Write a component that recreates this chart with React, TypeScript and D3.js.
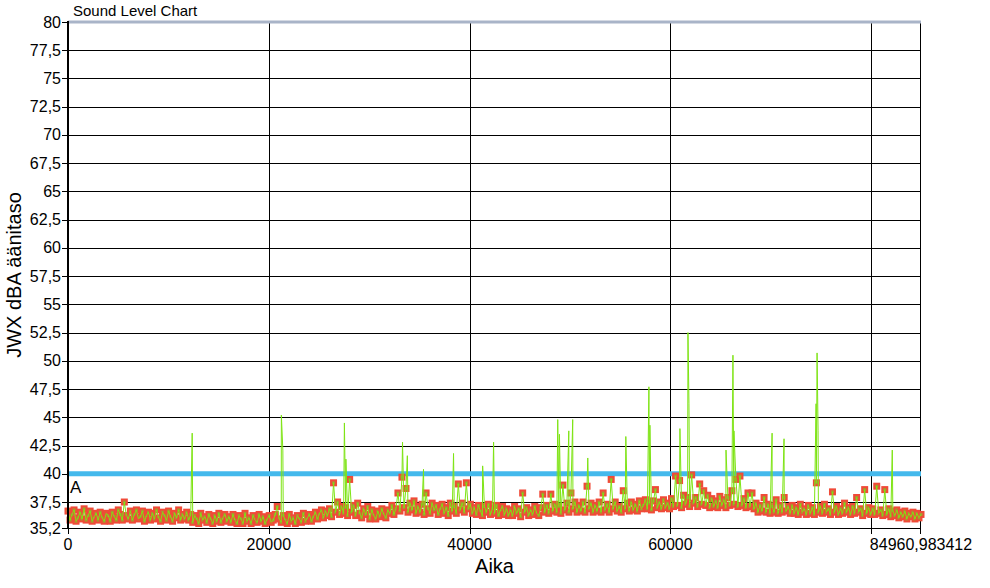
import React from 'react';
import * as d3 from 'd3';

const T_END = 84960.983412;

const levels: number[] = [
  36.7, 35.9, 36.4, 36.8, 35.8, 36.1, 36.6, 36.0, 36.9, 35.9, 36.3, 36.7, 35.8, 36.2, 36.5, 35.9, 36.6, 36.1, 35.8, 36.5,
  36.3, 35.8, 36.6, 36.2, 35.9, 36.8, 36.4, 35.9, 37.5, 36.3, 36.0, 36.7, 35.9, 36.4, 36.8, 36.0, 36.2, 36.7, 35.8, 36.3,
  36.6, 35.9, 36.5, 36.0, 36.8, 36.1, 35.8, 36.6, 36.3, 35.9, 36.7, 36.2, 35.8, 36.5, 36.1, 36.8, 35.9, 36.4, 36.0, 36.6,
  35.9, 36.4, 35.7, 36.3, 36.0, 35.6, 36.5, 35.9, 36.2, 35.7, 36.4, 36.0, 35.6, 36.3, 35.8, 36.5, 35.7, 36.1, 36.4, 35.8,
  36.2, 35.7, 36.4, 35.9, 35.6, 36.3, 36.0, 35.6, 36.5, 35.8, 36.1, 35.6, 36.3, 35.9, 35.7, 36.4, 35.8, 36.2, 35.6, 36.0,
  36.3, 35.7, 35.9, 36.4, 37.1, 36.0, 35.7, 36.3, 35.9, 35.6, 36.4, 35.8, 36.1, 35.6, 36.3, 36.0, 35.7, 36.5, 35.8, 36.1,
  36.4, 35.8, 36.2, 36.6, 36.0, 36.5, 36.8, 36.1, 36.7, 36.3, 36.9, 36.2, 39.2, 36.6, 37.5, 36.4, 37.1, 36.5, 37.0, 36.3,
  39.5, 36.6, 37.2, 36.3, 37.4, 36.5, 36.1, 36.9, 36.4, 37.1, 36.0, 36.8, 36.3, 36.0, 36.7, 36.2, 36.9, 36.4, 36.1, 36.8,
  36.5, 37.2, 36.4, 36.9, 38.3, 36.7, 39.7, 37.0, 38.7, 36.6, 37.4, 36.8, 37.6, 36.5, 37.1, 36.6, 37.3, 36.4, 38.3, 36.9,
  36.5, 37.4, 36.8, 37.2, 36.4, 36.9, 37.3, 36.5, 37.0, 36.3, 37.4, 36.7, 37.1, 36.5, 39.1, 36.8, 37.4, 36.6, 39.2, 36.9,
  37.3, 36.5, 37.0, 36.4, 37.2, 36.7, 36.3, 37.1, 36.6, 37.3, 36.4, 36.9, 36.5, 37.2, 36.3, 36.8, 37.1, 36.4, 36.9, 36.3,
  36.8, 36.3, 37.1, 36.5, 36.9, 36.2, 38.3, 36.6, 37.0, 36.3, 36.8, 36.4, 37.1, 36.5, 36.3, 37.0, 38.2, 36.6, 37.2, 36.5,
  38.2, 36.7, 37.3, 36.6, 37.1, 36.5, 39.0, 36.8, 37.4, 36.6, 38.3, 36.9, 37.5, 36.6, 37.2, 36.7, 37.5, 36.6, 38.9, 36.9,
  37.4, 36.6, 37.2, 36.7, 37.5, 36.6, 38.3, 36.8, 37.3, 36.6, 39.5, 36.9, 37.5, 36.7, 37.1, 36.6, 38.5, 36.9, 37.4, 36.7,
  37.5, 36.8, 37.3, 36.7, 37.6, 36.9, 37.2, 37.7, 36.9, 37.4, 36.8, 37.6, 38.6, 37.0, 37.5, 36.9, 37.7, 37.0, 37.4, 36.9,
  37.8, 37.1, 39.8, 37.2, 39.4, 37.0, 38.1, 37.3, 37.9, 37.1, 39.9, 37.4, 37.9, 37.1, 39.1, 37.3, 38.5, 37.2, 38.1, 37.0,
  37.8, 37.1, 37.6, 37.0, 38.0, 37.2, 37.7, 37.0, 37.9, 37.2, 38.5, 37.3, 39.5, 37.1, 39.8, 37.2, 37.8, 37.0, 38.3, 37.1,
  38.3, 36.9, 37.4, 36.6, 37.2, 36.7, 37.9, 36.6, 37.3, 36.5, 37.1, 36.6, 37.7, 36.5, 37.2, 36.6, 37.9, 36.7, 37.1, 36.5,
  37.2, 36.5, 37.0, 36.4, 37.3, 36.6, 36.9, 36.4, 37.2, 36.5, 37.0, 36.4, 39.2, 36.6, 37.1, 36.5, 37.3, 36.6, 36.9, 36.4,
  38.4, 36.6, 37.1, 36.4, 36.9, 36.5, 37.4, 36.6, 37.0, 36.4, 37.1, 36.5, 37.9, 36.6, 36.9, 36.3, 38.6, 36.5, 37.0, 36.4,
  36.9, 36.4, 38.9, 36.5, 36.8, 36.3, 38.6, 36.4, 36.9, 36.2, 36.7, 36.3, 36.8, 36.1, 36.6, 36.2, 36.7, 36.0, 36.5, 36.2,
  36.6, 36.0, 36.5, 36.1, 36.4,
];

// Short peaks in the green trace: time (s) and level (dBA)
const spikeTimes: number[] = [
  12370, 21250, 21400, 27530, 27680, 33320, 33800, 35410, 38400, 41300,
  42390, 48780, 48950, 49880, 50270, 51770, 55560, 57860, 57960, 60950,
  61750, 61850, 65540, 66230, 66330, 70130, 71320, 74510, 74610, 74710, 82100,
];
const spikeValues: number[] = [
  43.6, 45.2, 42.1, 44.5, 41.3, 42.8, 41.6, 40.4, 41.8, 40.7,
  42.8, 44.8, 43.5, 43.8, 44.8, 41.4, 43.3, 47.7, 44.3, 44.0,
  52.5, 46.2, 42.1, 50.5, 43.8, 43.6, 43.1, 46.2, 50.7, 43.8, 42.1,
];

const yTicks: number[] = [35.2, 37.5, 40, 42.5, 45, 47.5, 50, 52.5, 55, 57.5, 60, 62.5, 65, 67.5, 70, 72.5, 75, 77.5, 80];
const xTicks: number[] = [0, 20000, 40000, 60000, 80000, T_END];
const xTickLabels: string[] = ['0', '20000', '40000', '60000', '', '84960,983412'];
const xGrid: number[] = [20000, 40000, 60000, 80000];
const limitValue = 40;

const FONT = 'Liberation Sans, Arial, sans-serif';

export default function App() {
  const left = 68, right = 921, top = 22, bottom = 528;
  const x = d3.scaleLinear().domain([0, T_END]).range([left, right]);
  const y = d3.scaleLinear().domain([35.2, 80]).range([bottom, top]);

  const step = T_END / (levels.length - 1);
  const basePts: [number, number][] = levels.map((v, i) => [i * step, v]);
  const spikePts: [number, number][] = spikeTimes.map((t, i) => [t, spikeValues[i]]);
  const allPts = [...basePts, ...spikePts].sort((a, b) => a[0] - b[0]);

  const line = d3.line<[number, number]>()
    .x(d => x(d[0]))
    .y(d => y(d[1]));

  const fmt = (v: number) => String(v).replace('.', ',');
  const ms = 5;

  return (
    <svg width={990} height={588} style={{ position: 'absolute', left: 0, top: 0, background: '#fff' }}>
      <rect x={0} y={0} width={990} height={588} fill="#fff" />
      <text x={73} y={16} fontFamily={FONT} fontSize={15} fill="#000">Sound Level Chart</text>

      {yTicks.map(t => (
        <line key={'hg' + t} x1={left} x2={right} y1={Math.round(y(t)) + 0.5} y2={Math.round(y(t)) + 0.5} stroke="#000" strokeWidth={1} />
      ))}
      {xGrid.map(t => (
        <line key={'vg' + t} x1={Math.round(x(t)) + 0.5} x2={Math.round(x(t)) + 0.5} y1={top} y2={bottom} stroke="#000" strokeWidth={1} />
      ))}
      <line x1={right - 0.5} x2={right - 0.5} y1={top} y2={bottom} stroke="#000" strokeWidth={1} />

      <line x1={left} x2={right} y1={y(limitValue)} y2={y(limitValue)} stroke="#44b9ec" strokeWidth={5} />
      <text x={70} y={493} fontFamily={FONT} fontSize={17} fill="#000">A</text>

      <g>
        {basePts.map((d, i) => (
          <rect key={'m' + i} x={x(d[0]) - ms / 2} y={y(d[1]) - ms / 2} width={ms} height={ms}
            fill="#a8982e" stroke="#f04a38" strokeWidth={2} />
        ))}
      </g>
      <path d={line(allPts) || ''} fill="none" stroke="#7ee414" strokeWidth={1} />

      <line x1={left} x2={right} y1={top} y2={top} stroke="#a9b4c8" strokeWidth={3} />

      <line x1={left} x2={left} y1={top - 1} y2={bottom + 1} stroke="#000" strokeWidth={2} />
      <line x1={left} x2={right} y1={bottom + 0.5} y2={bottom + 0.5} stroke="#000" strokeWidth={1} />

      {yTicks.map(t => (
        <g key={'yt' + t}>
          <line x1={left - 6} x2={left} y1={Math.round(y(t)) + 0.5} y2={Math.round(y(t)) + 0.5} stroke="#000" strokeWidth={1} />
          <text x={left - 7} y={y(t) + 5.5} textAnchor="end" fontFamily={FONT} fontSize={16} fill="#000">{fmt(t)}</text>
        </g>
      ))}
      {xTicks.map((t, i) => {
        const px = Math.round(x(t)) + 0.5 - (i === xTicks.length - 1 ? 1 : 0);
        return (
          <g key={'xt' + i}>
            <line x1={px} x2={px} y1={bottom} y2={bottom + 6} stroke="#000" strokeWidth={1} />
            <text x={x(t)} y={550} textAnchor="middle" fontFamily={FONT} fontSize={16} fill="#000">{xTickLabels[i]}</text>
          </g>
        );
      })}

      <text x={(left + right) / 2} y={573} textAnchor="middle" fontFamily={FONT} fontSize={20} fill="#000">Aika</text>
      <text transform={`translate(21,${(top + bottom) / 2}) rotate(-90)`} textAnchor="middle" fontFamily={FONT} fontSize={20} fill="#000">JWX dBA äänitaso</text>
    </svg>
  );
}
